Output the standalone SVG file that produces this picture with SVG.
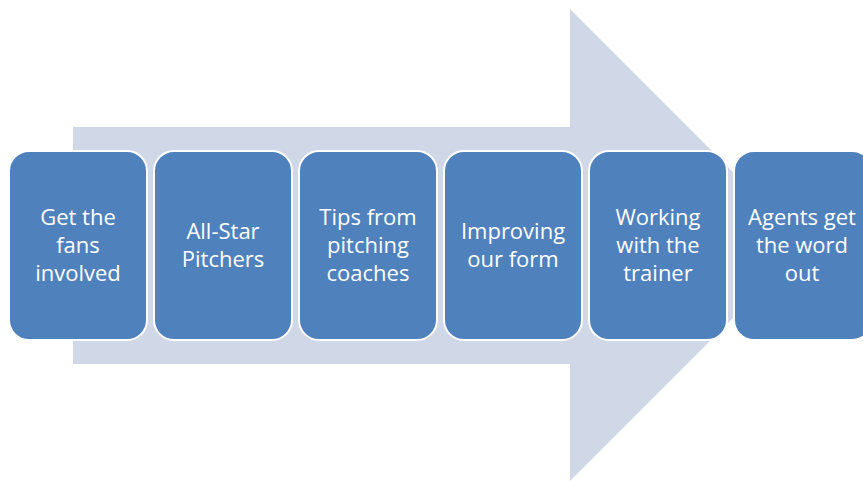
<svg xmlns="http://www.w3.org/2000/svg" width="863" height="481" viewBox="0 0 863 481">
<style>
.box{fill:#4F81BD;stroke:#FFFFFF;stroke-width:2}
.lbl{fill:#FFFFFF;font-family:"Open Sans","Liberation Sans",sans-serif;font-size:22px;text-anchor:middle}
</style>
<rect width="863" height="481" fill="#FFFFFF"/>
<g id="arrow">
<polygon points="73,127 570,127 570,9 806,245 570,481 570,364 73,364" fill="#D0D8E8"/>
</g>
<g id="connectors"></g>
<g id="n1"><rect class="box" x="9" y="151" width="138" height="189" rx="20"/>
<text class="lbl" x="78" y="225">Get the</text><text class="lbl" x="78" y="253">fans</text><text class="lbl" x="78" y="281">involved</text></g>
<g id="n2"><rect class="box" x="154" y="151" width="138" height="189" rx="20"/>
<text class="lbl" x="223" y="239">All-Star</text><text class="lbl" x="223" y="267">Pitchers</text></g>
<g id="n3"><rect class="box" x="299" y="151" width="138" height="189" rx="20"/>
<text class="lbl" x="368" y="225">Tips from</text><text class="lbl" x="368" y="253">pitching</text><text class="lbl" x="368" y="281">coaches</text></g>
<g id="n4"><rect class="box" x="444" y="151" width="138" height="189" rx="20"/>
<text class="lbl" x="513" y="239">Improving</text><text class="lbl" x="513" y="267">our form</text></g>
<g id="n5"><rect class="box" x="589" y="151" width="138" height="189" rx="20"/>
<text class="lbl" x="658" y="225">Working</text><text class="lbl" x="658" y="253">with the</text><text class="lbl" x="658" y="281">trainer</text></g>
<g id="n6"><rect class="box" x="734" y="151" width="138" height="189" rx="20"/>
<text class="lbl" x="802" y="225">Agents get</text><text class="lbl" x="802" y="253">the word</text><text class="lbl" x="802" y="281">out</text></g>
</svg>
